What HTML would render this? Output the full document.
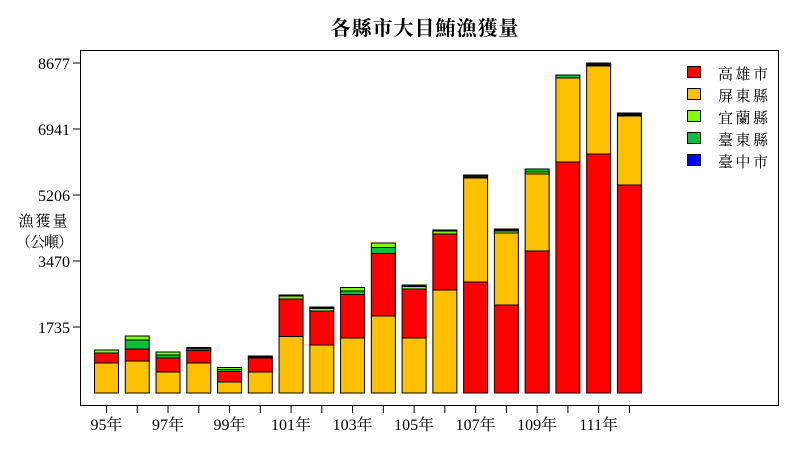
<!DOCTYPE html>
<html><head><meta charset="utf-8"><style>body{margin:0;background:#fff}svg{display:block}text{font-family:"Liberation Serif","Noto Serif CJK SC",serif;fill:#000}</style></head><body>
<svg width="800" height="450" xmlns="http://www.w3.org/2000/svg">
<text x="425" y="35" text-anchor="middle" font-size="20" font-weight="bold" letter-spacing="1">各縣市大目鮪漁獲量</text>
<rect x="80.5" y="50.5" width="698" height="355" fill="none" stroke="#000" stroke-width="1"/>
<g font-size="16" text-anchor="end">
<text x="70" y="69">8677</text><text x="70" y="135">6941</text><text x="70" y="201">5206</text><text x="70" y="267">3470</text><text x="70" y="333">1735</text>
</g>
<g stroke="#000"><line x1="73" x2="80" y1="63" y2="63"/><line x1="73" x2="80" y1="129" y2="129"/><line x1="73" x2="80" y1="195" y2="195"/><line x1="73" x2="80" y1="261" y2="261"/><line x1="73" x2="80" y1="327" y2="327"/></g>
<text x="44" y="226" font-size="15" text-anchor="middle" letter-spacing="2">漁獲量</text>
<text x="44" y="247" font-size="15" text-anchor="middle" letter-spacing="-1">（公噸）</text>
<g id="bars" stroke="#000" stroke-width="1"></g>
<g id="ticks" stroke="#000"></g>
<g id="lbl" font-size="15" text-anchor="middle"></g>
<g font-size="15" letter-spacing="2.5">
<rect x="687.5" y="66.5" width="13" height="11" fill="#ff0000" stroke="#000"/><text x="718" y="79">高雄市</text>
<rect x="687.5" y="88.5" width="13" height="11" fill="#ffc000" stroke="#000"/><text x="718" y="101">屏東縣</text>
<rect x="687.5" y="110.5" width="13" height="11" fill="#80ff00" stroke="#000"/><text x="718" y="123">宜蘭縣</text>
<rect x="687.5" y="132.5" width="13" height="11" fill="#00c040" stroke="#000"/><text x="718" y="145">臺東縣</text>
<rect x="687.5" y="154.5" width="13" height="11" fill="#0000ff" stroke="#000"/><text x="718" y="167">臺中市</text>
</g>
<script>
var Y="#ffc000",R="#ff0000",L="#80ff00",D="#00c040",K="#111";
var b=[
[[Y,363],[R,353],[L,350]],
[[Y,361],[R,349],[D,340],[L,336]],
[[Y,372],[R,358],[D,355],[L,352]],
[[Y,363],[R,350.5],[L,349],[K,347.5]],
[[Y,382],[R,371.5],[D,369.5],[L,367.5]],
[[Y,372],[R,358],[K,356]],
[[Y,336.5],[R,299],[L,296],[K,295]],
[[Y,345],[R,311],[L,308.5],[K,307]],
[[Y,338],[R,294.5],[D,291],[L,287.5]],
[[Y,316],[R,253.5],[D,247.5],[L,243]],
[[Y,338],[R,289],[L,286.5],[K,285]],
[[Y,290],[R,234],[L,231],[K,230]],
[[R,282],[Y,178],[K,175]],
[[R,305],[Y,233],[L,231],[K,229]],
[[R,251],[Y,174],[L,172],[D,169]],
[[R,162],[Y,78],[D,75]],
[[R,154],[Y,66],[L,65],[K,63]],
[[R,185],[Y,116],[L,115],[K,113]]];
var ns="http://www.w3.org/2000/svg",g=document.getElementById("bars"),t=document.getElementById("ticks"),l=document.getElementById("lbl");
b.forEach(function(s,i){var cx=106.5+i*30.76,x=cx-12,bot=393;
s.forEach(function(p){var r=document.createElementNS(ns,"rect");r.setAttribute("x",x);r.setAttribute("y",p[1]);r.setAttribute("width",24);r.setAttribute("height",bot-p[1]);r.setAttribute("fill",p[0]);g.appendChild(r);bot=p[1];});
var ln=document.createElementNS(ns,"line");ln.setAttribute("x1",cx);ln.setAttribute("x2",cx);ln.setAttribute("y1",406);ln.setAttribute("y2",413);t.appendChild(ln);
if(i%2==0){var tx=document.createElementNS(ns,"text");tx.setAttribute("x",cx);tx.setAttribute("y",430);tx.setAttribute("font-size","16");tx.textContent=(95+i)+"年";l.appendChild(tx);}
});
</script>
</svg></body></html>
